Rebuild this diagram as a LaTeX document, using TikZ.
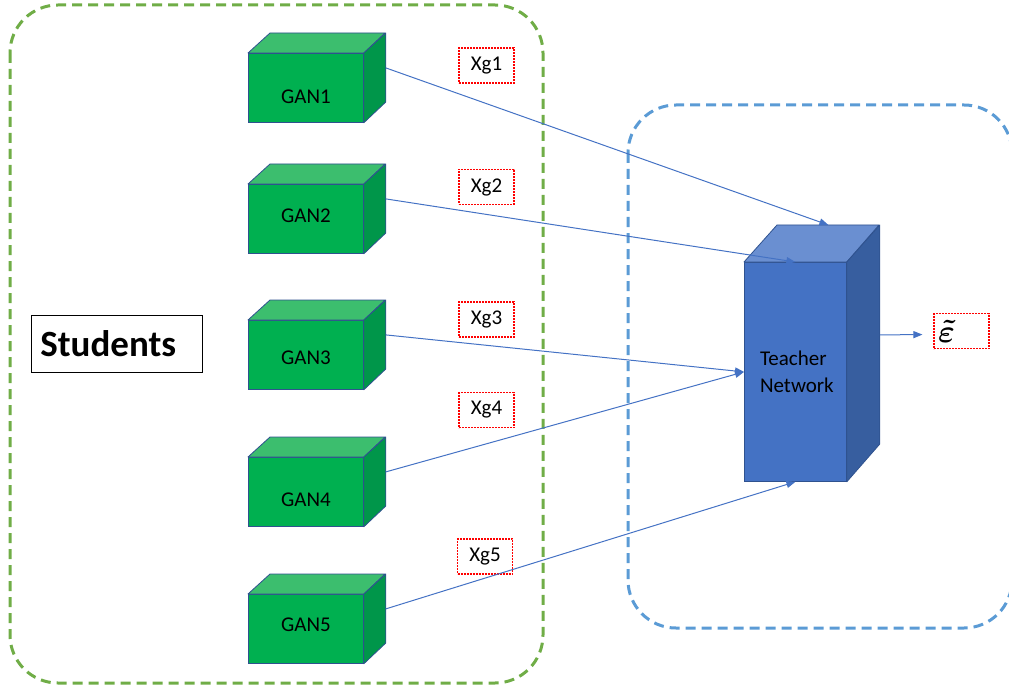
\documentclass[tikz,border=0pt]{standalone}
\usepackage{amsmath}
\usepackage{bm}
\usepackage{graphicx}
\usepackage{fontspec}
\setmainfont{Carlito}
\usepackage{xcolor}
\usepackage{tikz}
\usetikzlibrary{positioning,arrows.meta,calc}
\definecolor{stugreen}{HTML}{70AD47}
\definecolor{teachblue}{HTML}{5B9BD5}
\definecolor{ganfront}{HTML}{00B050}
\definecolor{gantop}{HTML}{3CBE6E}
\definecolor{ganside}{HTML}{00964A}
\definecolor{netfront}{HTML}{4472C4}
\definecolor{nettop}{HTML}{6A8FD1}
\definecolor{netside}{HTML}{375E9F}
\definecolor{cubeedge}{HTML}{2F528F}
\definecolor{arrowblue}{HTML}{4472C4}
\tikzset{
  grp/.style={draw=#1, line width=3pt, dash pattern=on 10pt off 6pt, rounded corners=48pt},
  front/.style={rectangle, draw=cubeedge, fill=#1, line width=0.8pt, inner sep=0pt},
  face/.style={draw=cubeedge, fill=#1, line width=0.8pt, line join=round},
  ganlbl/.style={font=\fontsize{21}{25}\selectfont},
  xgbox/.style={rectangle, draw=red, line width=1.1pt, dash pattern=on 2pt off 1pt,
                minimum width=55pt, minimum height=35pt, inner sep=0pt,
                font=\fontsize{21}{25}\selectfont},
  flow/.style={-{Triangle[length=9pt,width=7pt]}, line width=1pt, draw=arrowblue},
}

\begin{document}
\begin{tikzpicture}[x=1pt,y=-1pt]
  \useasboundingbox (0,0) rectangle (1009,687);

  % group frames
  \draw[grp=stugreen] (10,5) rectangle (543,683);
  \draw[grp=teachblue] (628,105) rectangle (1012,628);

  % students tag
  \node[draw, line width=0.8pt, anchor=west, inner xsep=9pt, text width=153pt,
        minimum height=57pt, align=left, font=\fontsize{37}{41}\selectfont\bfseries]
        (students) at (31,343.5) {Students};

  % the five generators
  \foreach \i/\y/\dy in {1/53/44,2/184/32,3/320/38,4/457/43,5/594/31}{
    \node[front=ganfront, anchor=north west, minimum width=115pt, minimum height=69pt]
          (gan\i) at (248,\y) {};
    \filldraw[face=gantop] (gan\i.north west) -- ++(22,-20) -- ++(115,0)
          -- (gan\i.north east) -- cycle;
    \filldraw[face=ganside] (gan\i.north east) -- ++(22,-20) -- ++(0,69)
          -- (gan\i.south east) -- cycle;
    \node[ganlbl] (ganlbl\i) at ($(gan\i.north)+(0,\dy)$) {GAN\i};
  }

  % teacher
  \node[front=netfront, anchor=north west, minimum width=102pt, minimum height=219pt,
        align=left, font=\fontsize{21}{27}\selectfont]
        (teacher) at (744,262) {\hspace*{3pt}Teacher\\\hspace*{3pt}Network};
  \filldraw[face=nettop] (teacher.north west) -- ++(33,-37) -- ++(102,0)
        -- (teacher.north east) -- cycle;
  \filldraw[face=netside] (teacher.north east) -- ++(33,-37) -- ++(0,219)
        -- (teacher.south east) -- cycle;

  % generated samples
  \node[xgbox] (xg1) at (486.5,65.5) {Xg1};
  \node[xgbox] (xg2) at (486.5,187) {Xg2};
  \node[xgbox] (xg3) at (486.5,319.5) {Xg3};
  \node[xgbox] (xg4) at (486.5,410) {Xg4};
  \node[xgbox] (xg5) at (485,556.5) {Xg5};

  % output
  \node[xgbox, text width=47pt, align=left, inner xsep=4pt, font=\normalsize]
        (eps) at (961.5,331) {\scalebox{3.2}{\boldmath$\tilde{\varepsilon}$}};

  % connectors
  \draw[flow] ([shift={(22,-20)}]gan1.east) -- ([shift={(33,-37)}]teacher.north);
  \draw[flow] ([shift={(22,-20)}]gan2.east) -- (teacher.north);
  \draw[flow] ([shift={(22,-20)}]gan3.east) -- (teacher.west);
  \draw[flow] ([shift={(22,-20)}]gan4.east) -- (teacher.west);
  \draw[flow] ([shift={(22,-20)}]gan5.east) -- (teacher.south);
  \draw[flow, shorten >=11pt] ([shift={(33,-37)}]teacher.east) -- (eps.west |- 0,334.5);
\end{tikzpicture}
\end{document}
